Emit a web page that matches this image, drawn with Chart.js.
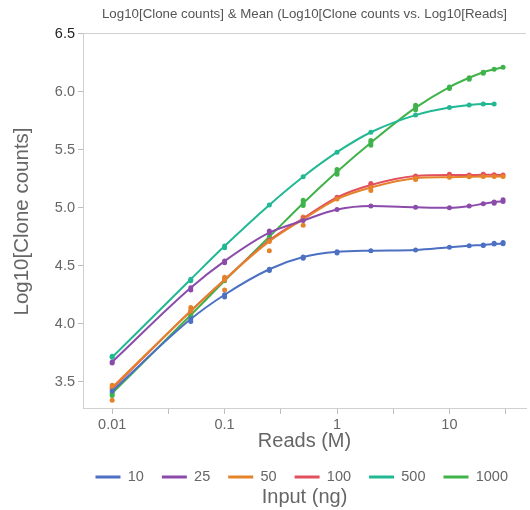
<!DOCTYPE html>
<html>
<head>
<meta charset="utf-8">
<script src="https://cdn.jsdelivr.net/npm/chart.js@4.4.1/dist/chart.umd.min.js"></script>
<style>
  html, body { margin: 0; padding: 0; background: #fff; }
  #wrap { width: 530px; height: 510px; }
</style>
</head>
<body>
<div id="wrap"><canvas id="cloneChart" width="530" height="510"></canvas></div>
<script>
// sequencing depth (millions of reads)
const reads = [0.01, 0.05, 0.1, 0.25, 0.5, 1, 2, 5, 10, 15, 20, 25, 30];
const inputs = ['10', '25', '50', '100', '500', '1000'];
const colors = ['#4d70c3', '#8b4bab', '#e5832b', '#e2505d', '#22b893', '#3fb34a'];

// mean log10 clone counts for each input amount (ng)
const mean10 = [3.42, 4.04, 4.25, 4.47, 4.575, 4.62, 4.63, 4.636, 4.66, 4.673, 4.68, 4.688, 4.69];
const mean25 = [3.67, 4.31, 4.54, 4.785, 4.89, 4.985, 5.015, 5.005, 5.0, 5.015, 5.035, 5.05, 5.055];
const mean50 = [3.45, 4.11, 4.38, 4.71, 4.9, 5.075, 5.175, 5.255, 5.264, 5.268, 5.27, 5.27, 5.27];
const mean100 = [3.44, 4.11, 4.38, 4.72, 4.91, 5.09, 5.197, 5.275, 5.283, 5.283, 5.285, 5.285, 5.283];
const mean500 = [3.71, 4.383, 4.67, 5.025, 5.268, 5.48, 5.652, 5.8, 5.865, 5.888, 5.895, 5.895, null];
const mean1000 = [3.4, 4.075, 4.37, 4.75, 5.04, 5.312, 5.562, 5.864, 6.042, 6.122, 6.17, 6.195, 6.212];

// single replicates [reads, log10 clones] that sit off the mean
const reps10 = [[0.05, 4.02], [0.1, 4.23], [0.25, 4.46], [0.5, 4.565], [1, 4.61], [20, 4.675], [25, 4.695], [30, 4.7]];
const reps25 = [[0.01, 3.66], [0.05, 4.29], [0.1, 4.525], [0.25, 4.8], [25, 5.04], [30, 5.07]];
const reps50 = [[0.01, 3.34], [0.01, 3.47], [0.05, 4.14], [0.05, 4.09], [0.1, 4.29], [0.1, 4.4], [0.25, 4.63],
  [0.25, 4.73], [0.5, 4.85], [0.5, 4.92], [2, 5.15], [5, 5.245]];
const reps100 = [[2, 5.21], [5, 5.265], [10, 5.29], [20, 5.29]];
const reps500 = [[0.01, 3.72], [0.05, 4.37], [0.1, 4.655]];
const reps1000 = [[0.01, 3.38], [0.05, 4.06], [0.25, 4.73], [0.5, 5.02], [0.5, 5.065], [1, 5.29], [1, 5.33],
  [2, 5.54], [2, 5.58], [5, 5.845], [5, 5.885], [10, 6.03], [15, 6.11], [20, 6.16]];

const xTicks = [0.01, 0.0316, 0.1, 0.316, 1, 3.16, 10, 31.6];
const xTickLabels = ['0.01', '', '0.1', '', '1', '', '10', ''];
const yTicks = [3.5, 4.0, 4.5, 5.0, 5.5, 6.0, 6.5];
const yTickLabels = ['3.5', '4.0', '4.5', '5.0', '5.5', '6.0', '6.5'];

const means = [mean10, mean25, mean50, mean100, mean500, mean1000];
const reps = [reps10, reps25, reps50, reps100, reps500, reps1000];

Chart.defaults.font.family = "'Liberation Sans', Arial, sans-serif";
Chart.defaults.color = '#666';

function toPoints(vals) {
    return reads.map((x, i) => ({x: x, y: vals[i]})).filter(p => p.y != null);
}

let datasets = [];
for (let i = 0; i < inputs.length; i++) {
    datasets.push({
        label: inputs[i],
        data: toPoints(means[i]),
        borderColor: colors[i],
        backgroundColor: colors[i],
        borderWidth: 2,
        pointRadius: 2.5,
        pointBorderWidth: 0,
        cubicInterpolationMode: 'monotone'
    });
}
for (let i = 0; i < inputs.length; i++) {
    datasets.push({
        label: inputs[i] + ' rep',
        data: reps[i].map(r => ({x: r[0], y: r[1]})),
        showLine: false,
        borderColor: colors[i],
        backgroundColor: colors[i],
        pointRadius: 2.5,
        pointBorderWidth: 0
    });
}

const ctx = document.getElementById('cloneChart').getContext('2d');
const cloneChart = new Chart(ctx, {
    type: 'line',
    data: { datasets: datasets },
    options: {
        responsive: false,
        animation: false,
        layout: { padding: { left: 0, right: 4, top: 0, bottom: 0 } },
        scales: {
            x: {
                type: 'logarithmic',
                min: 0.0055,
                max: 48,
                afterBuildTicks: s => { s.ticks = xTicks.map(v => ({value: v})); },
                afterFit: s => { s.height = 42.75; },
                border: { color: '#d0d0d0' },
                grid: { drawOnChartArea: false, tickColor: '#bdbdbd', tickLength: 5 },
                ticks: {
                    autoSkip: false,
                    maxRotation: 0,
                    padding: 2,
                    color: '#666',
                    font: { size: 14.5 },
                    callback: (v, i) => xTickLabels[i]
                },
                title: {
                    display: true,
                    text: 'Reads (M)',
                    color: '#666',
                    font: { size: 20 },
                    padding: { top: 0, bottom: -1.25 }
                }
            },
            y: {
                min: 3.264,
                max: 6.5,
                afterBuildTicks: s => { s.ticks = yTicks.map(v => ({value: v})); },
                afterFit: s => { s.width = 83; },
                border: { color: '#d0d0d0' },
                grid: {
                    color: c => (c.tick && c.tick.value === 6.5) ? '#d0d0d0' : 'rgba(0,0,0,0)',
                    tickColor: '#bdbdbd',
                    tickLength: 5
                },
                ticks: {
                    padding: 3,
                    color: c => c.tick.value === 6.5 ? '#222' : '#666',
                    font: { size: 14.5 },
                    callback: (v, i) => yTickLabels[i]
                },
                title: {
                    display: true,
                    text: 'Log10[Clone counts]',
                    color: '#666',
                    font: { size: 20.5 },
                    padding: { top: 10.5, bottom: 0 }
                }
            }
        },
        plugins: {
            tooltip: { enabled: false },
            title: {
                display: true,
                fullSize: false,
                text: 'Log10[Clone counts] & Mean (Log10[Clone counts vs. Log10[Reads]',
                color: '#555',
                font: { size: 13.3, weight: 'normal' },
                padding: { top: 6, bottom: 12 }
            },
            legend: {
                position: 'bottom',
                align: 'end',
                maxHeight: 31.25,
                labels: {
                    usePointStyle: true,
                    pointStyle: 'line',
                    pointStyleWidth: 25,
                    padding: 18,
                    color: '#666',
                    font: { size: 14.5 },
                    filter: item => item.datasetIndex < inputs.length,
                    generateLabels: chart => {
                        const items = Chart.defaults.plugins.legend.labels.generateLabels(chart);
                        items.forEach(it => { it.lineWidth = 3; });
                        return items;
                    }
                }
            },
            subtitle: {
                display: true,
                position: 'bottom',
                fullSize: false,
                text: 'Input (ng)',
                color: '#666',
                font: { size: 20 },
                padding: { top: 2, bottom: 1 }
            }
        }
    }
});
</script>
</body>
</html>
